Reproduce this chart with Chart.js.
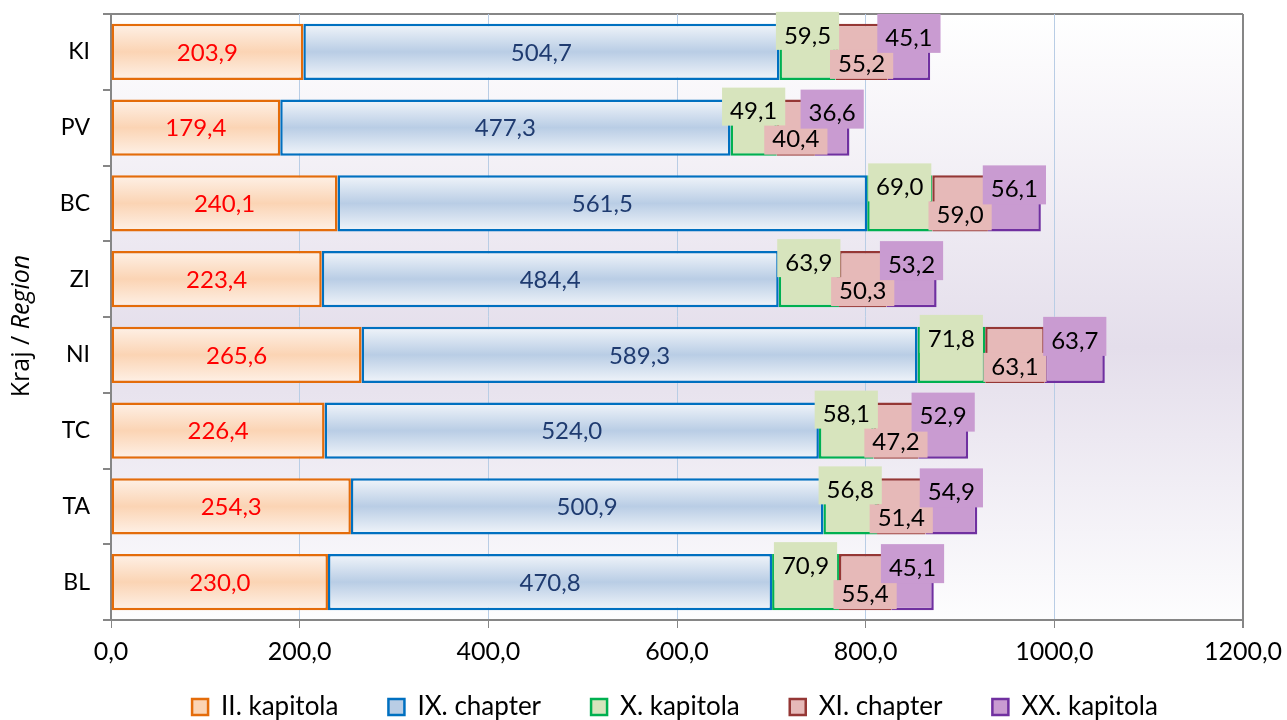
<!DOCTYPE html>
<html>
<head>
<meta charset="utf-8">
<script src="https://cdn.jsdelivr.net/npm/chart.js@4/dist/chart.umd.min.js"></script>
<style>
html, body { margin: 0; background: #fff; }
#obal { width: 1287px; height: 720px; }
</style>
</head>
<body>
<div id="obal"><canvas id="chartKraje"></canvas></div>
<script>
const kraje = ['KI', 'PV', 'BC', 'ZI', 'NI', 'TC', 'TA', 'BL'];
const kapII = [203.9, 179.4, 240.1, 223.4, 265.6, 226.4, 254.3, 230.0];
const kapIX = [504.7, 477.3, 561.5, 484.4, 589.3, 524.0, 500.9, 470.8];
const kapX = [59.5, 49.1, 69.0, 63.9, 71.8, 58.1, 56.8, 70.9];
const kapXI = [55.2, 40.4, 59.0, 50.3, 63.1, 47.2, 51.4, 55.4];
const kapXX = [45.1, 36.6, 56.1, 53.2, 63.7, 52.9, 54.9, 45.1];
const nazvy = ['II. kapitola', 'IX. chapter', 'X. kapitola', 'XI. chapter', 'XX. kapitola'];
const xTicks = [0, 200, 400, 600, 800, 1000, 1200];

const okraje = ['#e46c0a', '#0070c0', '#00b050', '#953735', '#7030a0'];
const vyplne = ['#fbd4b4', '#b9cde5', '#d7e4bd', '#e6b9b8', '#c99bd1'];
const SEDA = '#868686';
const PODIL = 0.74;
const PISMO = 'Lato';

const carka = v => v.toFixed(1).replace('.', ',');

// svisly prechod pres jednotlivy pruh
const prechod = (svetla, stred) => (c) => {
    const chart = c.chart;
    const area = chart.chartArea;
    if (!area || c.type !== 'data') return stred;
    const y = chart.scales.y.getPixelForValue(c.dataIndex);
    const h = area.height / kraje.length * PODIL / 2;
    const g = chart.ctx.createLinearGradient(0, y - h, 0, y + h);
    g.addColorStop(0, svetla);
    g.addColorStop(0.5, stred);
    g.addColorStop(1, svetla);
    return g;
}

const vzhled = [
    { barva: '#ff0000' },
    { barva: '#1f3b70' },
    { barva: '#000', box: vyplne[2], dy: -17, nahore: -23, dole: 15 },
    { barva: '#000', box: vyplne[3], dy: 11, nahore: -13, dole: 16 },
    { barva: '#000', box: vyplne[4], dy: -15, nahore: -23, dole: 16 },
];

const pozadi = {
    id: 'pozadi',
    beforeDraw(chart) {
        const { ctx, chartArea: a } = chart;
        const g = ctx.createLinearGradient(0, a.top, 0, a.bottom);
        g.addColorStop(0, '#ffffff');
        g.addColorStop(0.55, '#e4deeb');
        g.addColorStop(1, '#fdfdfe');
        ctx.save();
        ctx.fillStyle = g;
        ctx.fillRect(a.left, a.top, a.right - a.left, a.bottom - a.top);
        ctx.strokeStyle = SEDA;
        ctx.lineWidth = 2;
        ctx.beginPath();
        ctx.moveTo(a.left, a.top);
        ctx.lineTo(a.right, a.top);
        ctx.stroke();
        ctx.restore();
    }
}

// legenda: vyska napevno, pak posunout pod osu a vystredit pod plochou grafu
const legendaPoloha = {
    id: 'legendaPoloha',
    beforeLayout(chart) {
        const lg = chart.legend;
        if (lg && !lg.upraveno) {
            const puvodni = lg.fit;
            lg.fit = function () { puvodni.call(this); this.height = 50; };
            lg.upraveno = true;
        }
    },
    afterLayout(chart) {
        const lg = chart.legend;
        if (lg) {
            lg.left = chart.chartArea.left - 4;
            lg.right = chart.chartArea.right;
            lg.top = 644;
            lg.bottom = 720;
        }
    }
}

const popisky = {
    id: 'popisky',
    afterDatasetsDraw(chart) {
        const ctx = chart.ctx;
        ctx.save();
        ctx.font = '24px ' + PISMO;
        ctx.textAlign = 'center';
        ctx.textBaseline = 'middle';
        chart.data.datasets.forEach((ds, i) => {
            const s = vzhled[i];
            chart.getDatasetMeta(i).data.forEach((bar, j) => {
                const p = bar.getProps(['x', 'y', 'base'], true);
                const text = carka(ds.data[j]);
                const cx = (p.x + p.base) / 2;
                const ty = p.y + (s.dy || 0);
                if (s.box) {
                    const w = ctx.measureText(text).width + 16;
                    ctx.fillStyle = s.box;
                    ctx.fillRect(cx - w / 2, ty + s.nahore, w, s.dole - s.nahore);
                }
                ctx.fillStyle = s.barva;
                ctx.fillText(text, cx, ty + 1);
            });
        });
        ctx.restore();
    }
}

const osaY = {
    id: 'osaY',
    afterDraw(chart) {
        const { ctx } = chart;
        ctx.save();
        ctx.translate(22, 326);
        ctx.rotate(-Math.PI / 2);
        ctx.textBaseline = 'middle';
        ctx.fillStyle = '#000';
        const t1 = 'Kraj / ';
        const t2 = 'Region';
        ctx.font = '25px "Open Sans"';
        const w1 = ctx.measureText(t1).width;
        ctx.font = 'italic 25px "Open Sans"';
        const w2 = ctx.measureText(t2).width;
        const x0 = -(w1 + w2) / 2;
        ctx.font = '25px "Open Sans"';
        ctx.fillText(t1, x0, 0);
        ctx.font = 'italic 25px "Open Sans"';
        ctx.fillText(t2, x0 + w1, 0);
        ctx.restore();
    }
}

Chart.defaults.font.family = PISMO;
Chart.defaults.font.size = 24;
Chart.defaults.color = '#000';

const rady = [kapII, kapIX, kapX, kapXI, kapXX];

const data = {
    labels: kraje,
    datasets: rady.map((r, i) => ({
        label: nazvy[i],
        data: r,
        backgroundColor: i === 0 ? prechod('#fef1e7', vyplne[0])
            : i === 1 ? prechod('#f1f5fa', vyplne[1])
            : vyplne[i],
        borderColor: okraje[i],
        borderWidth: 2.5,
        borderSkipped: false,
        categoryPercentage: 1,
        barPercentage: PODIL
    }))
}

const canvas = document.getElementById('chartKraje');
const chartKraje = new Chart(canvas.getContext('2d'), {
    type: 'bar',
    data: data,
    plugins: [pozadi, legendaPoloha, popisky, osaY],
    options: {
        indexAxis: 'y',
        responsive: true,
        maintainAspectRatio: false,
        animation: false,
        layout: { padding: { top: 14, right: 44, left: 0, bottom: 0 } },
        scales: {
            x: {
                stacked: true,
                min: 0,
                max: 1200,
                afterBuildTicks: s => { s.ticks = xTicks.map(v => ({ value: v })); },
                grid: {
                    color: c => (c.tick && (c.tick.value === 0 || c.tick.value === 1200)) ? SEDA : '#b9cde5',
                    lineWidth: c => (c.tick && c.tick.value === 1200) ? 2 : 1,
                    tickColor: SEDA,
                    tickLength: 8
                },
                border: { color: SEDA, width: 2 },
                ticks: { padding: 9, maxRotation: 0, font: { size: 25 }, callback: v => carka(v) },
                afterFit: s => { s.height = 50; s.paddingLeft = 0; s.paddingRight = 0; }
            },
            y: {
                stacked: true,
                grid: { offset: true, drawOnChartArea: false, tickLength: 8, tickColor: SEDA, lineWidth: 2 },
                border: { color: SEDA, width: 2 },
                ticks: { padding: 13, font: { size: 23 } },
                afterFit: s => { s.width = 111; s.paddingTop = 0; s.paddingBottom = 0; }
            }
        },
        plugins: {
            tooltip: { enabled: false },
            legend: {
                position: 'bottom',
                labels: {
                    boxWidth: 16,
                    boxHeight: 16,
                    padding: 50,
                    font: { size: 26 },
                    generateLabels: chart => chart.data.datasets.map((ds, i) => ({
                        text: ds.label,
                        fillStyle: vyplne[i],
                        strokeStyle: okraje[i],
                        lineWidth: 2.5,
                        datasetIndex: i,
                        hidden: false
                    }))
                }
            }
        }
    }
})
</script>
</body>
</html>
